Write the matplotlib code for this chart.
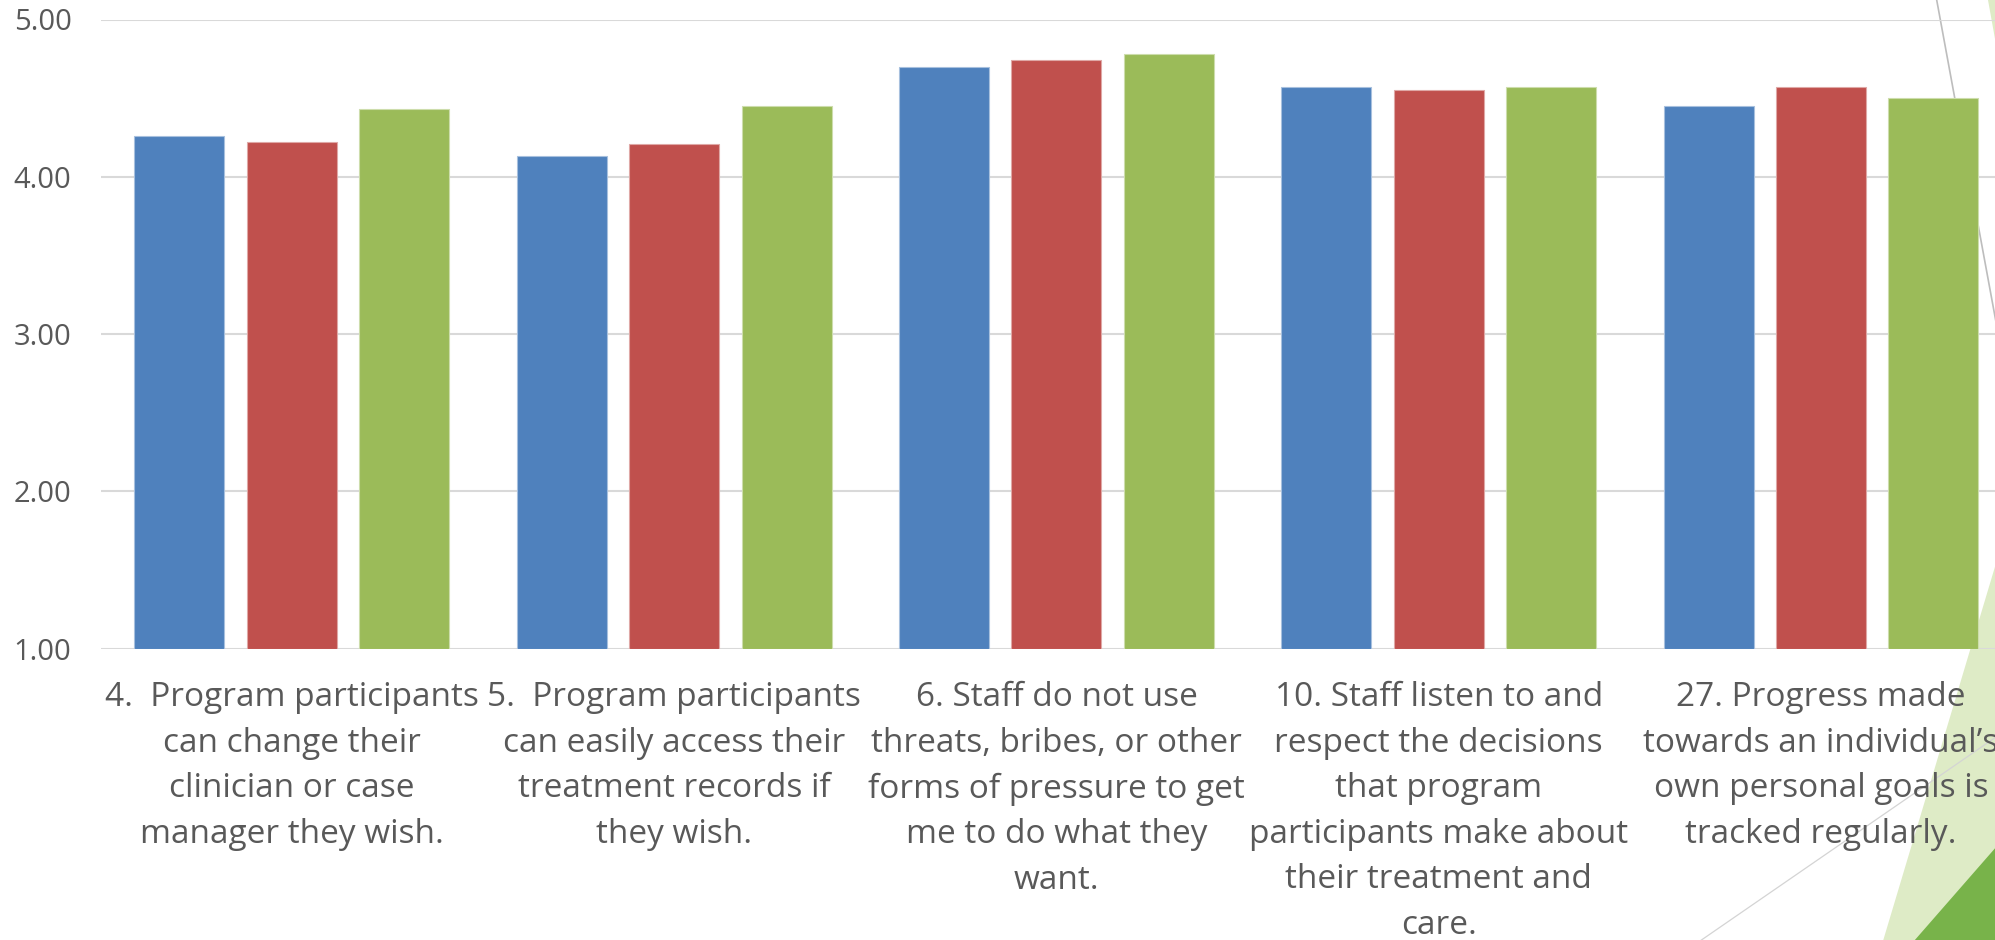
import matplotlib
matplotlib.use("Agg")
import matplotlib.pyplot as plt
from matplotlib.patches import Polygon
from matplotlib.lines import Line2D
import numpy as np

# ---- data -------------------------------------------------------------
categories = [
    "4.  Program participants\ncan change their\nclinician or case\nmanager they wish.",
    "5.  Program participants\ncan easily access their\ntreatment records if\nthey wish.",
    "6. Staff do not use\nthreats, bribes, or other\nforms of pressure to get\nme to do what they\nwant.",
    "10. Staff listen to and\nrespect the decisions\nthat program\nparticipants make about\ntheir treatment and\ncare.",
    "27. Progress made\ntowards an individual\u2019s\nown personal goals is\ntracked regularly.",
]
series_blue = [4.26, 4.13, 4.70, 4.57, 4.45]
series_red = [4.22, 4.21, 4.74, 4.55, 4.57]
series_green = [4.43, 4.45, 4.78, 4.57, 4.50]
y_ticks = [1.0, 2.0, 3.0, 4.0, 5.0]

colors = ["#4F81BD", "#C0504D", "#9BBB59"]
edge_colors = ["#A7C0DE", "#DFA8A6", "#CDDDAC"]
text_color = "#595959"
grid_color = "#D9D9D9"

W, H = 1995, 940
fig = plt.figure(figsize=(W / 100, H / 100), dpi=100)
fig.patch.set_facecolor("white")


def px(x, y):
    """Pixel position (origin top-left) -> figure fraction."""
    return (x / W, 1 - y / H)


# ---- slide-theme decoration behind the chart ---------------------------
light_green = "#DEEBC6"
dark_green = "#78B34A"
decor = [
    Polygon([px(1987.5, 0), px(1997, 0), px(1997, 50)], closed=True,
            facecolor=light_green, edgecolor="none"),
    Polygon([px(1997, 560), px(1883, 941), px(1997, 941)], closed=True,
            facecolor=light_green, edgecolor="none"),
    Polygon([px(1997, 846), px(1914, 941), px(1997, 941)], closed=True,
            facecolor=dark_green, edgecolor="none"),
]
for p in decor:
    p.set_transform(fig.transFigure)
    p.set_zorder(-5)
    fig.patches.append(p)

for (x0, y0, x1, y1, c, lw) in [
    (1936.7, 0, 1996, 322, "#BDBDBD", 1.2),
    (1700, 941, 1996, 737, "#D4D4D4", 0.9),
]:
    (fx0, fy0), (fx1, fy1) = px(x0, y0), px(x1, y1)
    ln = Line2D([fx0, fx1], [fy0, fy1], transform=fig.transFigure,
                color=c, linewidth=lw, zorder=-4)
    fig.lines.append(ln)

# ---- chart -------------------------------------------------------------
ax = fig.add_axes([100.7 / W, 1 - 648.7 / H, 1911.5 / W, (648.7 - 19.5) / H])
ax.set_facecolor("none")

x = np.arange(len(categories))
bar_w = 0.2354
step = 0.294
for i, vals in enumerate([series_blue, series_red, series_green]):
    ax.bar(x + (i - 1) * step, np.array(vals) - 1.0, bottom=1.0, width=bar_w,
           color=colors[i], edgecolor=edge_colors[i], linewidth=0.8, zorder=3)

ax.set_xlim(-0.5, len(categories) - 0.5)
ax.set_ylim(1.0, 5.0)
ax.set_yticks(y_ticks)
ax.set_yticklabels([f"{v:.2f}" for v in y_ticks])
ax.set_xticks(x)
ax.set_xticklabels(categories, linespacing=1.5)

for s in ax.spines.values():
    s.set_visible(False)
ax.grid(axis="y", color=grid_color, linewidth=1.5, zorder=0)
ax.set_axisbelow(True)
ax.tick_params(axis="y", length=0, pad=21, labelsize=21, labelcolor=text_color)
ax.tick_params(axis="x", length=0, pad=23.5, labelsize=24, labelcolor=text_color)
for lab in ax.get_yticklabels() + ax.get_xticklabels():
    lab.set_family(["Open Sans", "DejaVu Sans"])

fig.savefig("out.png", dpi=100, facecolor="white")
